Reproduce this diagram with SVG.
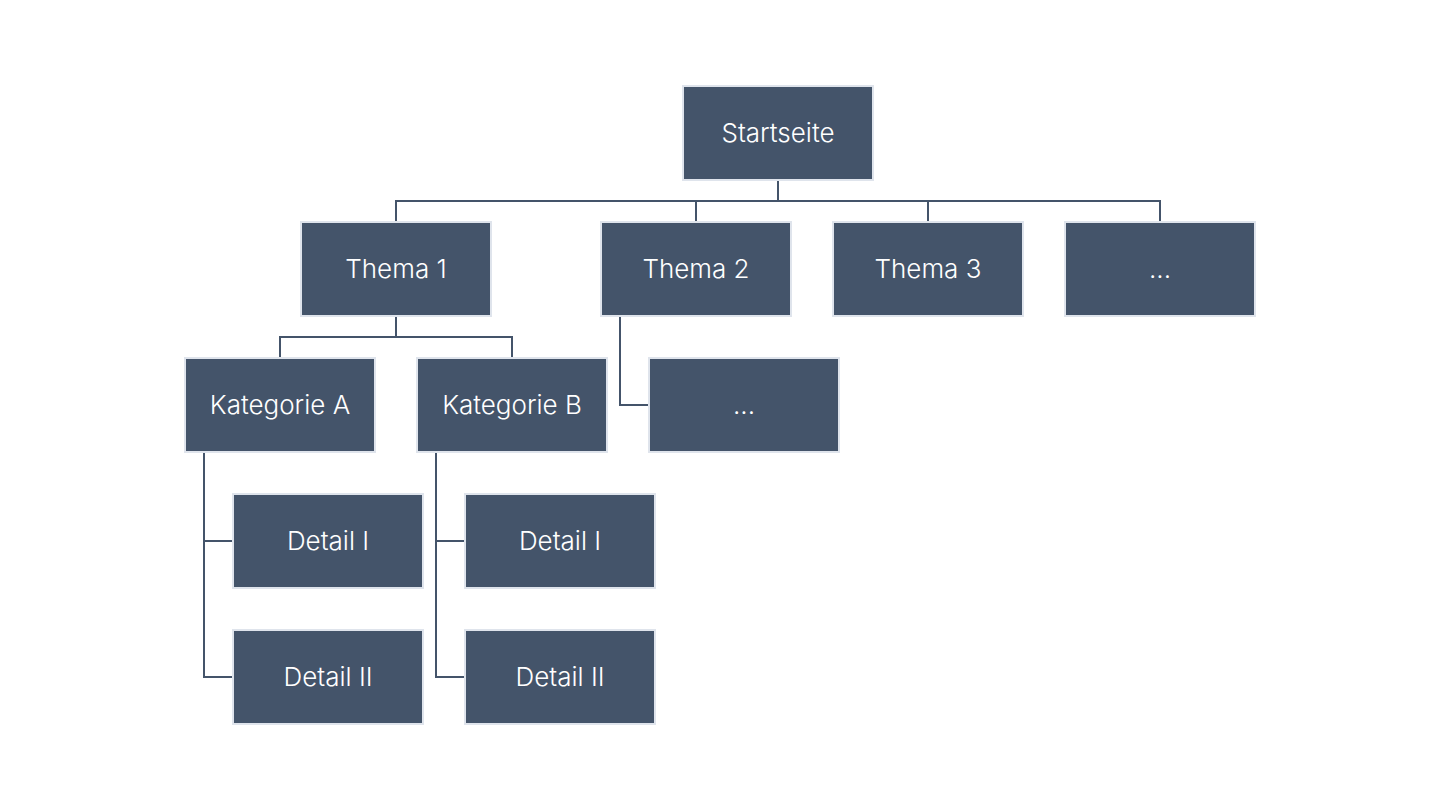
<svg xmlns="http://www.w3.org/2000/svg" width="1440" height="810" viewBox="0 0 1440 810">
<style>
.box{fill:#44546a;stroke:#dfe4ec;stroke-width:2}
.lbl{font-family:Inter,"Noto Sans","Liberation Sans",sans-serif;font-size:26px;font-weight:300;fill:#ffffff;text-anchor:middle}
.con{fill:none;stroke:#44546a;stroke-width:2;stroke-linejoin:miter;stroke-linecap:butt}
</style>
<rect width="1440" height="810" fill="#ffffff"/>
<g id="connectors">
<polyline class="con" points="778,180 778,201"/>
<polyline class="con" points="396,221 396,201 1160,201 1160,221"/>
<polyline class="con" points="696,201 696,221"/>
<polyline class="con" points="928,201 928,221"/>
<polyline class="con" points="396,316 396,337"/>
<polyline class="con" points="280,357 280,337 512,337 512,357"/>
<polyline class="con" points="204,452 204,677 232,677"/>
<polyline class="con" points="204,541 232,541"/>
<polyline class="con" points="436,452 436,677 464,677"/>
<polyline class="con" points="436,541 464,541"/>
<polyline class="con" points="620,316 620,405 648,405"/>
</g>
<g id="startseite"><rect class="box" x="683" y="86" width="190" height="94"/><text class="lbl" x="778" y="142">Startseite</text></g>
<g id="thema1"><rect class="box" x="301" y="222" width="190" height="94"/><text class="lbl" x="396" y="278">Thema 1</text></g>
<g id="thema2"><rect class="box" x="601" y="222" width="190" height="94"/><text class="lbl" x="696" y="278">Thema 2</text></g>
<g id="thema3"><rect class="box" x="833" y="222" width="190" height="94"/><text class="lbl" x="928" y="278">Thema 3</text></g>
<g id="thema-more"><rect class="box" x="1065" y="222" width="190" height="94"/><text class="lbl" x="1160" y="278">...</text></g>
<g id="kategorieA"><rect class="box" x="185" y="358" width="190" height="94"/><text class="lbl" x="280" y="414">Kategorie A</text></g>
<g id="kategorieB"><rect class="box" x="417" y="358" width="190" height="94"/><text class="lbl" x="512" y="414">Kategorie B</text></g>
<g id="thema2-more"><rect class="box" x="649" y="358" width="190" height="94"/><text class="lbl" x="744" y="414">...</text></g>
<g id="detailA1"><rect class="box" x="233" y="494" width="190" height="94"/><text class="lbl" x="328" y="550">Detail I</text></g>
<g id="detailA2"><rect class="box" x="233" y="630" width="190" height="94"/><text class="lbl" x="328" y="686">Detail II</text></g>
<g id="detailB1"><rect class="box" x="465" y="494" width="190" height="94"/><text class="lbl" x="560" y="550">Detail I</text></g>
<g id="detailB2"><rect class="box" x="465" y="630" width="190" height="94"/><text class="lbl" x="560" y="686">Detail II</text></g>
</svg>
